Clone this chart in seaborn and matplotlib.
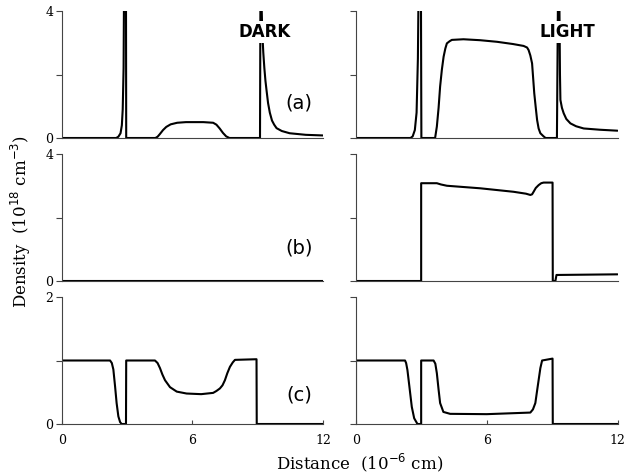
import matplotlib
matplotlib.use("Agg")
import matplotlib.pyplot as plt
import seaborn as sns
import pandas as pd

# ---------------- data ----------------
dark_a_x = [0, 2.5, 2.6, 2.7, 2.76, 2.8, 2.84, 2.86, 2.95, 2.96, 4.3, 4.4, 4.5, 4.65, 4.8, 5.0, 5.3, 5.7, 6.5, 6.95, 7.1, 7.25, 7.4, 7.55, 7.7, 9.1, 9.12, 9.16,
            9.2, 9.25, 9.3, 9.35, 9.4, 9.47, 9.55, 9.65, 9.75, 9.86, 10.1, 10.46, 11.2, 12]
dark_a_y = [0, 0, 0.04, 0.15, 0.4, 0.9, 2.2, 4.6, 4.6, 0, 0, 0.04, 0.12, 0.25, 0.35, 0.43, 0.48, 0.5, 0.5, 0.48, 0.42, 0.3, 0.16, 0.05, 0, 0, 4.6, 4.6,
            3.4, 2.7, 2.2, 1.8, 1.5, 1.1, 0.8, 0.55, 0.42, 0.31, 0.22, 0.15, 0.1, 0.08]

light_a_x = [0, 2.5, 2.6, 2.7, 2.78, 2.84, 2.87, 2.98, 3.0, 3.63, 3.71, 3.79, 3.86, 3.94, 4.02, 4.1, 4.17, 4.3, 4.4, 4.93, 5.7, 6.47, 7.2, 7.69, 7.85,
             7.92, 8.0, 8.08, 8.18, 8.25, 8.31, 8.38, 8.46, 8.61, 8.7, 9.22, 9.27, 9.33, 9.36, 9.38, 9.45, 9.53, 9.65, 9.84, 10.1, 10.45, 11.2, 12]
light_a_y = [0, 0, 0.05, 0.25, 0.8, 2.5, 4.6, 4.6, 0, 0, 0.36, 0.95, 1.62, 2.15, 2.56, 2.82, 2.98, 3.05, 3.09, 3.11, 3.08, 3.03, 2.96, 2.9, 2.85,
             2.77, 2.6, 2.35, 1.41, 0.95, 0.57, 0.3, 0.15, 0.05, 0, 0, 4.6, 4.6, 2.0, 1.2, 0.95, 0.78, 0.6, 0.46, 0.37, 0.3, 0.26, 0.23]

dark_b_x = [0, 12]
dark_b_y = [0, 0]

light_b_x = [0, 2.99, 2.99, 3.71, 3.9, 4.17, 5.7, 7.23, 7.8, 8.0, 8.08, 8.15, 8.25, 8.38, 8.5, 8.61, 9.02, 9.03, 9.15, 9.2, 12]
light_b_y = [0, 0, 3.08, 3.08, 3.04, 3.0, 2.92, 2.81, 2.75, 2.71, 2.73, 2.81, 2.93, 3.02, 3.08, 3.1, 3.1, 0, 0, 0.19, 0.21]

dark_c_x = [0, 0, 2.22, 2.3, 2.37, 2.45, 2.52, 2.6, 2.68, 2.75, 2.95, 2.96, 4.28, 4.4, 4.51, 4.62, 4.74, 4.97, 5.28, 5.73, 6.4, 6.95, 7.1, 7.26,
            7.38, 7.49, 7.6, 7.72, 7.85, 7.95, 8.94, 8.95, 12]
dark_c_y = [0, 1.0, 1.0, 0.96, 0.86, 0.59, 0.33, 0.12, 0.03, 0, 0, 1.0, 1.0, 0.96, 0.88, 0.78, 0.69, 0.58, 0.51, 0.48, 0.47, 0.49, 0.52, 0.56,
            0.61, 0.69, 0.8, 0.9, 0.97, 1.01, 1.02, 0, 0]

light_c_x = [0, 0, 2.25, 2.3, 2.36, 2.45, 2.56, 2.67, 2.82, 2.99, 2.99, 3.56, 3.64, 3.71, 3.79, 3.86, 4.01, 4.32, 6.0, 8.0, 8.12, 8.23, 8.3,
             8.38, 8.46, 8.54, 9.02, 9.03, 12]
light_c_y = [0, 1.0, 1.0, 0.96, 0.85, 0.59, 0.27, 0.09, 0, 0, 1.0, 1.0, 0.95, 0.8, 0.54, 0.33, 0.19, 0.16, 0.155, 0.18, 0.23, 0.33, 0.5,
             0.69, 0.88, 1.0, 1.03, 0, 0]

panel_labels = ["(a)", "(b)", "(c)"]
ylims = [4, 4, 2]
yticks = [[0, 2, 4], [0, 2, 4], [0, 1, 2]]
yticklabels = [["0", "", "4"], ["0", "", "4"], ["0", "", "2"]]
xticks = [0, 6, 12]
xticklabels = ["0", "6", "12"]

curves = [
    [(dark_a_x, dark_a_y), (light_a_x, light_a_y)],
    [(dark_b_x, dark_b_y), (light_b_x, light_b_y)],
    [(dark_c_x, dark_c_y), (light_c_x, light_c_y)],
]

# ---------------- figure ----------------
sns.set_style("white")
plt.rcParams["font.family"] = ["DejaVu Serif"]
plt.rcParams["text.color"] = "black"
plt.rcParams["xtick.color"] = "black"
plt.rcParams["ytick.color"] = "black"
plt.rcParams["axes.labelcolor"] = "black"

fig = plt.figure(figsize=(6.26, 4.75), dpi=100)
lefts = [61.7 / 626, 356 / 626]
width = 261.5 / 626
bottoms = [1 - 138 / 475, 1 - 281 / 475, 1 - 424 / 475]
height = 127 / 475

serif = "DejaVu Serif"
for r in range(3):
    for c in range(2):
        ax = fig.add_axes([lefts[c], bottoms[r], width, height])
        xs, ys = curves[r][c]
        df = pd.DataFrame({"x": xs, "y": ys})
        sns.lineplot(data=df, x="x", y="y", sort=False, estimator=None,
                     color="black", lw=1.5, ax=ax)
        ax.set_xlim(0, 12)
        ax.set_ylim(0, ylims[r])
        for s in ["top", "right"]:
            ax.spines[s].set_visible(False)
        for s in ["left", "bottom"]:
            ax.spines[s].set_color("#444444")
            ax.spines[s].set_linewidth(0.8)
        ax.set_xlabel("")
        ax.set_ylabel("")
        ax.set_yticks(yticks[r])
        if c == 0:
            ax.set_yticklabels(yticklabels[r], fontsize=9, family=serif, color="black")
        else:
            ax.set_yticklabels([])
        ax.tick_params(axis="y", direction="out", length=4, width=0.8, left=True, pad=2, color="#444444")
        ax.set_xticks(xticks)
        if r == 2:
            ax.set_xticklabels(xticklabels, fontsize=9, family=serif, color="black")
            ax.tick_params(axis="x", direction="in", length=3, width=0.8, bottom=True, pad=7, color="#444444")
        else:
            ax.set_xticklabels([])
            ax.tick_params(axis="x", length=0)
        if c == 0:
            ytxt = [1.1, 1.03, 0.46][r]
            ax.text(10.9, ytxt, panel_labels[r], fontsize=14, family="DejaVu Sans",
                    ha="center", va="center", color="black")
        if r == 0:
            if c == 0:
                ax.text(9.33, 3.35, "DARK", fontsize=12, fontweight="bold", family="DejaVu Sans",
                        ha="center", va="center", zorder=5, color="black",
                        bbox=dict(facecolor="white", edgecolor="none", pad=1.5))
            else:
                ax.text(9.72, 3.35, "LIGHT", fontsize=12, fontweight="bold", family="DejaVu Sans",
                        ha="center", va="center", zorder=5, color="black",
                        bbox=dict(facecolor="white", edgecolor="none", pad=1.5))

fig.text(0.033, 1 - 222 / 475, r"Density  (10$^{18}$ cm$^{-3}$)", rotation=90,
         ha="center", va="center", fontsize=12, family=serif, color="black")
fig.text(360 / 626, 1 - 463 / 475, r"Distance  (10$^{-6}$ cm)", ha="center", va="center",
         fontsize=12, family=serif, color="black")

fig.savefig("out.png", dpi=100)
